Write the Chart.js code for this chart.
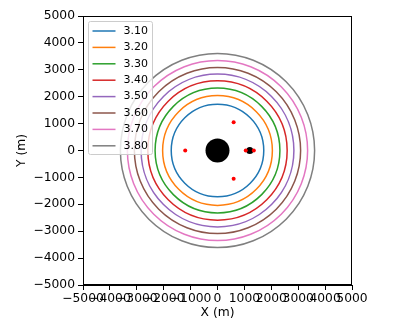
<!DOCTYPE html>
<html>
<head>
<meta charset="utf-8">
<script src="https://cdn.jsdelivr.net/npm/chart.js@4"></script>
<style>
  html, body { margin: 0; padding: 0; background: #fff; }
  #wrap { width: 395px; height: 329px; }
</style>
</head>
<body>
<div id="wrap"><canvas id="chart" width="395" height="329"></canvas></div>
<script>
// contour levels and their circle radii (m)
const levels = ["3.10", "3.20", "3.30", "3.40", "3.50", "3.60", "3.70", "3.80"];
const radii = [1720, 2040, 2320, 2590, 2840, 3090, 3350, 3610];
const colors = ["#1f77b4", "#ff7f0e", "#2ca02c", "#d62728", "#9467bd", "#8c564b", "#e377c2", "#7f7f7f"];

// point markers
const redX = [-1200, 600, 600, 1050, 1350];
const redY = [0, 1050, -1050, 0, 0];
const smallBlack = [{ x: 1200, y: 0 }];
const bigBlack = [{ x: 0, y: 0 }];

const xTicks = [-5000, -4000, -3000, -2000, -1000, 0, 1000, 2000, 3000, 4000, 5000];
const yTicks = [-5000, -4000, -3000, -2000, -1000, 0, 1000, 2000, 3000, 4000, 5000];

const FONT = "DejaVu Sans";
const fmt = v => (v < 0 ? "\u2212" + Math.abs(v) : String(v));

// draws each contour circle through the scales
const circlePlugin = {
  id: "circles",
  beforeDatasetsDraw(chart) {
    const { ctx, chartArea, scales } = chart;
    const cx = scales.x.getPixelForValue(0);
    const cy = scales.y.getPixelForValue(0);
    ctx.save();
    ctx.beginPath();
    ctx.rect(chartArea.left, chartArea.top, chartArea.width, chartArea.height);
    ctx.clip();
    ctx.lineWidth = 1.5;
    radii.forEach((r, i) => {
      const rx = scales.x.getPixelForValue(r) - cx;
      const ry = cy - scales.y.getPixelForValue(r);
      ctx.strokeStyle = colors[i];
      ctx.beginPath();
      ctx.ellipse(cx, cy, rx, ry, 0, 0, Math.PI * 2);
      ctx.stroke();
    });
    ctx.restore();
  }
};

// matplotlib style frame + legend box
const framePlugin = {
  id: "frame",
  afterDraw(chart) {
    const { ctx, chartArea } = chart;
    ctx.save();
    ctx.strokeStyle = "#000";
    ctx.lineWidth = 1;
    ctx.strokeRect(chartArea.left + 0.5, chartArea.top + 0.5, chartArea.width - 1, chartArea.height - 1);

    // legend
    const bx = chartArea.left + 5.5, by = chartArea.top + 5.5;
    const bw = 64, bh = 133;
    ctx.fillStyle = "rgba(255,255,255,0.8)";
    ctx.strokeStyle = "#cccccc";
    ctx.beginPath();
    ctx.roundRect(bx, by, bw, bh, 2);
    ctx.fill();
    ctx.stroke();
    ctx.font = "11px '" + FONT + "'";
    ctx.textBaseline = "middle";
    ctx.textAlign = "left";
    levels.forEach((lab, i) => {
      const y = by + 9.5 + i * 16.4;
      ctx.strokeStyle = colors[i];
      ctx.lineWidth = 1.5;
      ctx.beginPath();
      ctx.moveTo(bx + 4, y);
      ctx.lineTo(bx + 27, y);
      ctx.stroke();
      ctx.fillStyle = "#000";
      ctx.fillText(lab, bx + 35, y);
    });
    ctx.restore();
  }
};

const datasets = [
  {
    label: "red",
    data: redX.map((x, i) => ({ x: x, y: redY[i] })),
    pointRadius: 2,
    pointBackgroundColor: "#ff0000",
    pointBorderWidth: 0,
    showLine: false
  },
  {
    label: "small",
    data: smallBlack,
    pointRadius: 3.5,
    pointBackgroundColor: "#000",
    pointBorderWidth: 0,
    showLine: false
  },
  {
    label: "big",
    data: bigBlack,
    pointRadius: 12,
    pointBackgroundColor: "#000",
    pointBorderWidth: 0,
    showLine: false
  }
];

function axis(ticks, titleText, horizontal) {
  return {
    type: "linear",
    min: ticks[0],
    max: ticks[ticks.length - 1],
    afterBuildTicks: s => { s.ticks = ticks.map(v => ({ value: v })); },
    afterFit: s => {
      if (horizontal) s.height = 44; else s.width = 83;
    },
    grid: { drawOnChartArea: false, tickLength: 5, tickColor: "#000", tickWidth: 1 },
    border: { color: "#000", width: 1 },
    ticks: {
      autoSkip: false,
      maxRotation: 0,
      minRotation: 0,
      padding: horizontal ? 1 : 3,
      color: "#000",
      font: { family: FONT, size: 12.3 },
      callback: v => fmt(v)
    },
    title: {
      display: true,
      text: titleText,
      color: "#000",
      font: { family: FONT, size: 12.3 },
      padding: horizontal ? { top: 0, bottom: 8.5 } : { top: 14.6, bottom: 0 }
    }
  };
}

new Chart(document.getElementById("chart"), {
  type: "scatter",
  data: { datasets: datasets },
  options: {
    responsive: false,
    animation: false,
    layout: { padding: { left: 0, top: 16, right: 43, bottom: 0 } },
    plugins: { legend: { display: false }, tooltip: { enabled: false } },
    scales: {
      x: axis(xTicks, "X (m)", true),
      y: axis(yTicks, "Y (m)", false)
    }
  },
  plugins: [circlePlugin, framePlugin]
});
</script>
</body>
</html>
